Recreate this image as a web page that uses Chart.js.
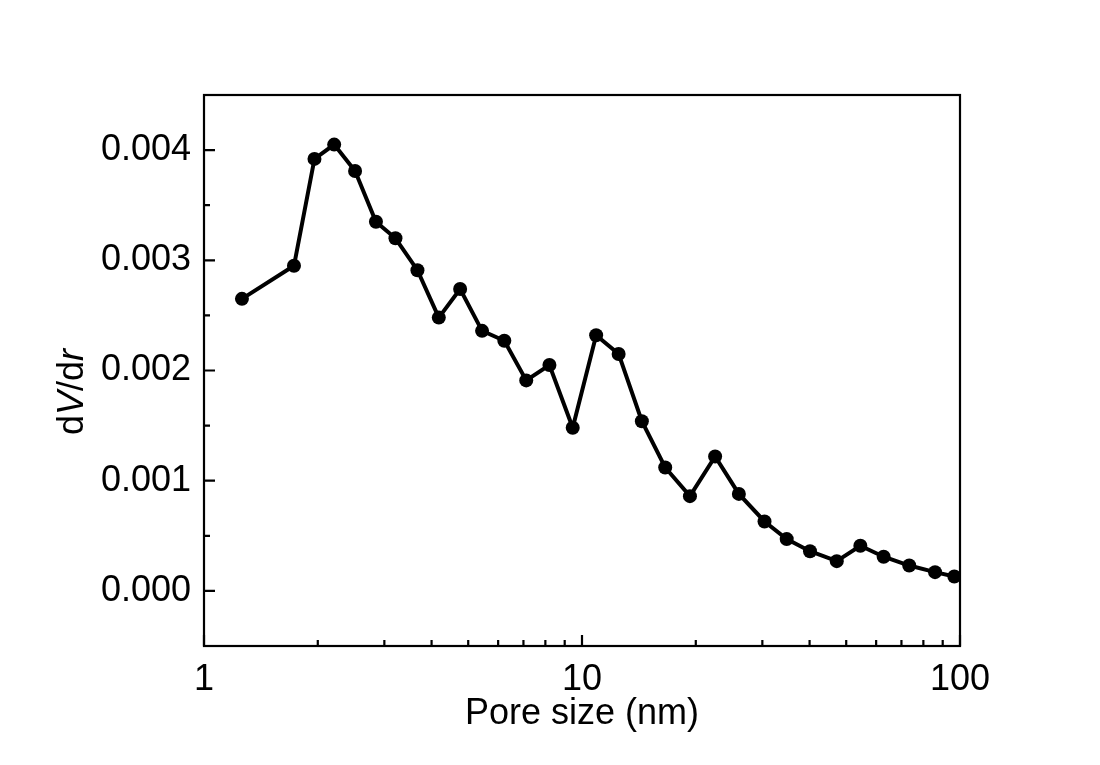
<!DOCTYPE html>
<html>
<head>
<meta charset="utf-8">
<title>Pore size distribution</title>
<script src="https://cdn.jsdelivr.net/npm/chart.js@4.4.1/dist/chart.umd.min.js"></script>
<style>
  html, body { margin: 0; padding: 0; background: #ffffff; }
  #wrap { width: 1100px; height: 765px; }
</style>
</head>
<body>
<div id="wrap"><canvas id="psdChart"></canvas></div>
<script>
// pore size (nm) and dV/dr values
const poreSize = [1.26, 1.73, 1.96, 2.21, 2.51, 2.85, 3.21, 3.67, 4.18, 4.76,
                  5.44, 6.23, 7.12, 8.20, 9.45, 10.9, 12.5, 14.4, 16.6, 19.3,
                  22.5, 26.0, 30.4, 34.8, 40.1, 47.2, 54.5, 62.8, 73.4, 85.9, 96.6];
const dVdr = [0.00265, 0.00295, 0.00392, 0.00405, 0.00381, 0.00335, 0.00320, 0.00291, 0.00248, 0.00274,
              0.00236, 0.00227, 0.00191, 0.00205, 0.00148, 0.00232, 0.00215, 0.00154, 0.00112, 0.00086,
              0.00122, 0.00088, 0.00063, 0.00047, 0.00036, 0.00027, 0.00041, 0.00031, 0.00023, 0.00017, 0.00013];

// axis ticks
const xMajorTicks = [1, 10, 100];
const xMinorTicks = [2, 3, 4, 5, 6, 7, 8, 9, 20, 30, 40, 50, 60, 70, 80, 90];
const yMajorTicks = [0, 0.001, 0.002, 0.003, 0.004];
const yMinorTicks = [0.0005, 0.0015, 0.0025, 0.0035];

const FONT = "'Liberation Sans', Arial, sans-serif";

const points = poreSize.map((x, i) => ({ x: x, y: dVdr[i] }));

// frame + inward ticks
const framePlugin = {
    id: 'frame',
    beforeDatasetsDraw(chart) {
        const { ctx, chartArea: a, scales } = chart;
        ctx.save();
        ctx.strokeStyle = '#000';
        ctx.lineWidth = 2.2;
        ctx.strokeRect(a.left, a.top, a.right - a.left, a.bottom - a.top);

        ctx.beginPath();
        xMajorTicks.forEach(v => {
            const px = scales.x.getPixelForValue(v);
            ctx.moveTo(px, a.bottom); ctx.lineTo(px, a.bottom - 11);
        });
        xMinorTicks.forEach(v => {
            const px = scales.x.getPixelForValue(v);
            ctx.moveTo(px, a.bottom); ctx.lineTo(px, a.bottom - 6);
        });
        yMajorTicks.forEach(v => {
            const py = scales.y.getPixelForValue(v);
            ctx.moveTo(a.left, py); ctx.lineTo(a.left + 11, py);
        });
        yMinorTicks.forEach(v => {
            const py = scales.y.getPixelForValue(v);
            ctx.moveTo(a.left, py); ctx.lineTo(a.left + 6, py);
        });
        ctx.stroke();
        ctx.restore();
    }
};

// y title with italic V and r
const yTitlePlugin = {
    id: 'yTitle',
    afterDraw(chart) {
        const { ctx } = chart;
        const parts = [
            { t: 'd', it: false }, { t: 'V', it: true },
            { t: '/d', it: false }, { t: 'r', it: true }
        ];
        ctx.save();
        ctx.fillStyle = '#000';
        ctx.textBaseline = 'alphabetic';
        ctx.textAlign = 'left';
        let total = 0;
        parts.forEach(p => {
            ctx.font = (p.it ? 'italic ' : '') + '36px ' + FONT;
            p.w = ctx.measureText(p.t).width;
            total += p.w;
        });
        ctx.translate(83, 392);
        ctx.rotate(-Math.PI / 2);
        let x = -total / 2;
        parts.forEach(p => {
            ctx.font = (p.it ? 'italic ' : '') + '36px ' + FONT;
            ctx.fillText(p.t, x, 0);
            x += p.w;
        });
        ctx.restore();
    }
};

new Chart(document.getElementById('psdChart'), {
    type: 'line',
    data: {
        datasets: [{
            data: points,
            borderColor: '#000',
            backgroundColor: '#000',
            borderWidth: 4,
            pointRadius: 7,
            pointHoverRadius: 7,
            pointBackgroundColor: '#000',
            pointBorderWidth: 0,
            tension: 0
        }]
    },
    options: {
        responsive: true,
        maintainAspectRatio: false,
        animation: false,
        events: [],
        layout: { padding: { top: 95, right: 140, left: 0, bottom: 0 } },
        plugins: {
            legend: { display: false },
            tooltip: { enabled: false }
        },
        scales: {
            x: {
                type: 'logarithmic',
                min: 1,
                max: 100,
                afterFit(scale) { scale.height = 119; },
                afterBuildTicks(scale) { scale.ticks = xMajorTicks.map(v => ({ value: v })); },
                grid: { display: false, drawTicks: false },
                border: { display: false },
                ticks: {
                    color: '#000',
                    padding: 12,
                    maxRotation: 0,
                    autoSkip: false,
                    font: { family: FONT, size: 36 },
                    callback: v => String(v)
                },
                title: {
                    display: true,
                    text: 'Pore size (nm)',
                    color: '#000',
                    font: { family: FONT, size: 36, lineHeight: 1.2 },
                    padding: { top: 0, bottom: 29 }
                }
            },
            y: {
                type: 'linear',
                min: -0.0005,
                max: 0.0045,
                afterFit(scale) { scale.width = 204; },
                afterBuildTicks(scale) { scale.ticks = yMajorTicks.map(v => ({ value: v })); },
                grid: { display: false, drawTicks: false },
                border: { display: false },
                ticks: {
                    color: '#000',
                    padding: 13,
                    autoSkip: false,
                    font: { family: FONT, size: 36 },
                    callback: v => v.toFixed(3)
                }
            }
        }
    },
    plugins: [framePlugin, yTitlePlugin]
});
</script>
</body>
</html>
